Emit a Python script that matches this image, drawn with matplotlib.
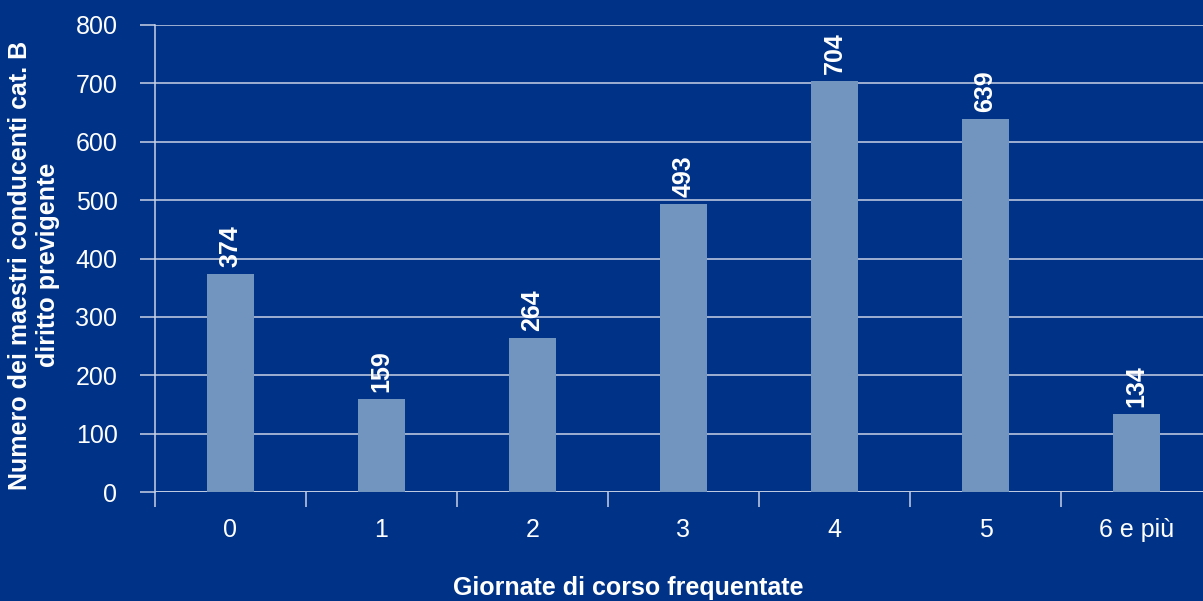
import matplotlib
matplotlib.use("Agg")
import matplotlib.pyplot as plt
import numpy as np

categories = ["0", "1", "2", "3", "4", "5", "6 e più"]
values = [374, 159, 264, 493, 704, 639, 134]
yticks = [0, 100, 200, 300, 400, 500, 600, 700, 800]

BG = "#003388"
BAR = "#7195BF"
GRID = "#C8D2E6"
FS = 18

plt.rcParams['font.family'] = ['Liberation Sans', 'DejaVu Sans']

fig = plt.figure(figsize=(12.03, 6.01), dpi=100, facecolor=BG)
ax = fig.add_axes([155/1203, 109/601, (1212-155)/1203, (492-25)/601])
ax.set_facecolor(BG)

x = np.arange(len(categories))
ax.bar(x, values, width=0.305, color=BAR, zorder=3)

for xi, v in zip(x, values):
    ax.annotate(str(v), (xi, v), xytext=(0, 5), textcoords="offset points",
                rotation=90, ha="center", va="bottom", color="white",
                fontsize=FS, fontweight="bold", zorder=4)

ax.set_xlim(-0.5, len(categories) - 0.5)
ax.set_ylim(0, 800)
ax.set_yticks(yticks)
ax.set_yticklabels([str(t) for t in yticks])
ax.yaxis.grid(True, color=GRID, linewidth=1.1, zorder=1)
ax.set_axisbelow(True)

ax.set_xticks(x)
ax.set_xticklabels(categories)
ax.set_xticks(np.arange(-0.5, len(categories)), minor=True)
ax.tick_params(axis="x", which="major", length=0, pad=19, labelsize=FS, labelcolor="white")
ax.tick_params(axis="x", which="minor", length=11, width=1.1, color=GRID, direction="out")
ax.tick_params(axis="y", length=11, width=1.1, color=GRID, pad=16, labelsize=FS, labelcolor="white")

for s in ["top", "right", "bottom"]:
    ax.spines[s].set_visible(False)
ax.spines["left"].set_color(GRID)
ax.spines["left"].set_linewidth(1.1)
ax.axhline(0, color=GRID, linewidth=1.1, zorder=2)

fig.text(34/1203, 1 - 265/601, "Numero dei maestri conducenti cat. B\ndiritto previgente",
         color="white", fontsize=FS, fontweight="bold", linespacing=1.25,
         rotation=90, ha="center", va="center", multialignment="center")

fig.text(628/1203, 1 - 588/601, "Giornate di corso frequentate", color="white",
         fontsize=FS, fontweight="bold", ha="center", va="center")

fig.savefig("out.png", dpi=100, facecolor=BG)
